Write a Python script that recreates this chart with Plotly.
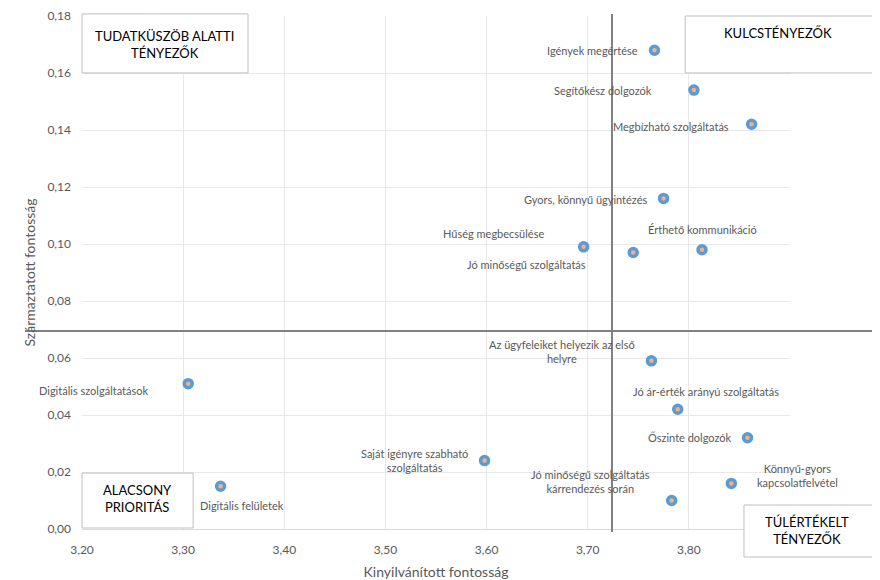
import plotly.graph_objects as go

# ---- data ----
factors = [
    "Igények megértése", "Segítőkész dolgozók", "Megbízható szolgáltatás",
    "Gyors, könnyű ügyintézés", "Hűség megbecsülése", "Jó minőségű szolgáltatás",
    "Érthető kommunikáció", "Az ügyfeleiket helyezik az első<br>helyre",
    "Digitális szolgáltatások", "Jó ár-érték arányú szolgáltatás", "Őszinte dolgozók",
    "Könnyű-gyors<br>kapcsolatfelvétel", "Jó minőségű szolgáltatás<br>kárrendezés során",
    "Saját igényre szabható<br>szolgáltatás", "Digitális felületek",
]
stated = [3.766, 3.805, 3.862, 3.775, 3.696, 3.745, 3.813, 3.763,
          3.305, 3.789, 3.858, 3.842, 3.783, 3.598, 3.337]
derived = [0.168, 0.154, 0.142, 0.116, 0.099, 0.097, 0.098, 0.059,
           0.051, 0.042, 0.032, 0.016, 0.010, 0.024, 0.015]
x_threshold = 3.724
y_threshold = 0.0695
x_tickvals = [3.2, 3.3, 3.4, 3.5, 3.6, 3.7, 3.8, 3.9]
x_ticktext = ["3,20", "3,30", "3,40", "3,50", "3,60", "3,70", "3,80", ""]
quadrant_names = ["TUDATKÜSZÖB ALATTI<br>TÉNYEZŐK", "KULCSTÉNYEZŐK",
                  "ALACSONY<br>PRIORITÁS", "TÚLÉRTÉKELT<br>TÉNYEZŐK"]
x_title = "Kinyilvánított fontosság"
y_title = "Származtatott fontosság"

# ---- label placement (pixel offsets, anchor) ----
label_pos = [
    (-14, 0, "right"), (-40, 0, "right"), (-21, -2, "right"), (-14, -1, "right"),
    (-38, 13, "right"), (-45, -12, "right"), (0, 20, "center"), (-89, 9, "center"),
    (-38, -7, "right"), (28, 18, "center"), (-14, 0, "right"), (66, 8, "center"),
    (-81, 19, "center"), (-70, 0, "center"), (21, -19, "center"),
]

FONT = "Lato, 'Open Sans', sans-serif"
GREY = "#595959"

fig = go.Figure()
fig.add_trace(go.Scatter(
    x=stated, y=derived, mode="markers",
    marker=dict(size=8, color="#F4B183", line=dict(color="#5B9BD5", width=3.5)),
    hoverinfo="skip", showlegend=False,
))

annotations = []
for name, xv, yv, (dx, dy, anc) in zip(factors, stated, derived, label_pos):
    annotations.append(dict(
        x=xv, y=yv, xref="x", yref="y", text=name, showarrow=False,
        xanchor=anc, yanchor="middle", xshift=dx, yshift=dy, align="center",
        font=dict(family=FONT, size=11, color=GREY),
    ))

shapes = [
    dict(type="line", xref="x", yref="paper", x0=x_threshold, x1=x_threshold,
         y0=-0.006, y1=1.004, line=dict(color="#808080", width=2), layer="above"),
    dict(type="line", xref="paper", yref="y", x0=-0.0805, x1=1.127,
         y0=y_threshold, y1=y_threshold, line=dict(color="#808080", width=2), layer="above"),
]

boxes = [
    ((0.0, 0.2345, 0.889, 1.004), (0.117, 0.945)),
    ((0.852, 1.119, 0.889, 1.0), (0.983, 0.967)),
    ((0.0, 0.157, 0.002, 0.109), (0.0777, 0.0585)),
    ((0.935, 1.117, -0.0546, 0.0468), (1.024, -0.002)),
]
for name, ((x0, x1, y0, y1), (tx, ty)) in zip(quadrant_names, boxes):
    shapes.append(dict(type="rect", xref="paper", yref="paper", x0=x0, x1=x1, y0=y0, y1=y1,
                       fillcolor="white", line=dict(color="#BFBFBF", width=1), layer="above"))
    annotations.append(dict(x=tx, y=ty, xref="paper", yref="paper", text=name,
                            showarrow=False, xanchor="center", yanchor="middle", align="center",
                            font=dict(family=FONT, size=13, color="#000000")))

fig.update_layout(
    width=872, height=572,
    margin=dict(l=74, r=90, t=8, b=51, autoexpand=False),
    paper_bgcolor="white", plot_bgcolor="white",
    separators=", ",
    font=dict(family=FONT, color=GREY),
    shapes=shapes, annotations=annotations,
    xaxis=dict(range=[3.2, 3.9], tickvals=x_tickvals, ticktext=x_ticktext, showgrid=True,
               gridcolor="#E8E8E8", gridwidth=1, zeroline=False, showline=True,
               linecolor="#D9D9D9", linewidth=1, ticks="", ticklabelstandoff=10,
               automargin=False,
               tickfont=dict(family=FONT, size=12, color=GREY),
               title=dict(text=x_title, standoff=12, font=dict(family=FONT, size=14, color=GREY))),
    yaxis=dict(range=[0, 0.18], dtick=0.02, tickformat=".2f", showgrid=True,
               gridcolor="#E8E8E8", gridwidth=1, zeroline=False, showline=False,
               ticks="", ticklabelstandoff=10, automargin=False,
               tickfont=dict(family=FONT, size=12, color=GREY),
               title=dict(text=y_title, standoff=8, font=dict(family=FONT, size=14, color=GREY))),
)

fig.write_html("out.html")
